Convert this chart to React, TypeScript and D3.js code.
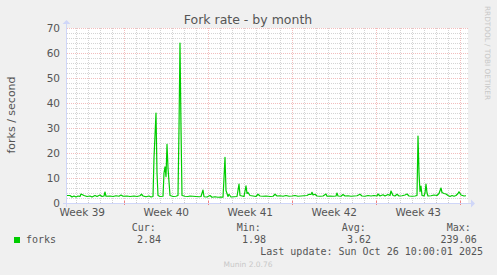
import React from "react";
import * as d3 from "d3";

// ---- data ----
const startTime = new Date(Date.UTC(2025, 8, 23, 5, 24));
const endTime = new Date(Date.UTC(2025, 9, 26, 13, 24));
// hours since startTime of each sample (2h resolution)
const sampleHours = [
  0, 6, 10, 14, 18, 22, 26, 28, 34, 40, 46, 50, 56, 60, 66, 70, 74, 76, 78, 86, 92, 98, 104, 108, 112,
  120, 126, 134, 140, 146, 149, 152, 158, 164, 168, 172, 174, 178, 180, 182, 186, 192, 194, 196, 198, 200, 202,
  206, 212, 218, 222, 224, 226, 228, 230, 236, 242, 246, 252, 258, 264, 268, 272, 274, 280, 286, 290, 296,
  302, 308, 312, 314, 316, 318, 322, 324, 328, 334, 340, 344, 346, 350, 354, 358, 360, 362, 366, 372, 378,
  382, 386, 392, 398, 406, 412, 416, 420, 426, 432, 438, 444, 450, 456, 462, 468, 474, 480, 484, 488, 490,
  492, 496, 500, 506, 512, 518, 520, 526, 532, 538, 540, 542, 548, 552, 556, 562, 568, 574, 580, 586, 590,
  596, 602, 608, 614, 620, 622, 626, 632, 636, 642, 646, 648, 652, 656, 660, 664, 670, 676, 680, 684, 690,
  696, 700, 702, 704, 706, 708, 710, 714, 716, 718, 720, 722, 728, 734, 740, 744, 748, 750, 754, 758, 762,
  766, 770, 774, 778, 782, 784, 788, 794, 798,
];
const forksValues = [
  3.0, 3.0, 2.4, 2.8, 2.4, 2.8, 2.6, 3.6, 3.0, 2.6, 2.8, 2.4, 3.0, 2.6, 3.2, 2.6, 2.8, 4.4, 2.7, 2.8, 2.6, 2.9, 2.7, 3.2, 2.7,
  2.8, 2.6, 2.8, 2.6, 2.9, 3.5, 2.8, 2.5, 2.8, 2.4, 2.6, 18, 36, 12, 3.0, 2.6, 2.7, 12, 14.5, 10.5, 23.5, 14,
  3.0, 2.6, 2.7, 3.0, 30, 64, 30, 3.0, 2.7, 2.6, 2.8, 2.7, 2.6, 2.5, 2.6, 5.2, 2.5, 2.4, 3.0, 2.3, 2.5,
  2.3, 2.4, 2.3, 10, 18.3, 5.0, 2.6, 3.5, 2.4, 2.5, 2.6, 7.6, 3.0, 2.8, 2.6, 6.9, 3.8, 4.2, 3.0, 2.8, 2.6,
  3.5, 2.8, 2.7, 2.8, 2.6, 2.7, 3.5, 2.8, 2.9, 2.7, 3.0, 2.7, 2.8, 3.0, 2.7, 2.8, 2.9, 3.0, 3.5, 3.4, 4.3,
  3.2, 3.5, 2.8, 2.7, 2.8, 3.6, 2.7, 2.8, 2.7, 2.8, 4.0, 2.8, 2.7, 3.4, 2.8, 2.9, 2.7, 2.8, 2.9, 3.5, 2.8,
  2.7, 3.0, 2.8, 3.0, 2.8, 3.6, 2.8, 3.3, 2.8, 3.4, 3.0, 4.8, 3.0, 2.8, 3.5, 2.8, 2.9, 3.2, 3.6, 2.8, 2.7,
  2.8, 3.0, 26.8, 12, 4.5, 6.8, 3.0, 2.8, 4.0, 7.6, 4.0, 2.8, 2.9, 3.2, 3.0, 3.8, 6.0, 4.2, 3.8, 3.6, 3.0,
  2.6, 3.0, 2.7, 3.0, 3.8, 4.5, 3.2, 2.8, 2.9,
];
const yTicks = [0, 10, 20, 30, 40, 50, 60, 70];
const weekLabels = ["Week 39", "Week 40", "Week 41", "Week 42", "Week 43"];
const legendHeaders = ["Cur:", "Min:", "Avg:", "Max:"];
const legendValues = ["2.84", "1.98", "3.62", "239.06"];
const seriesName = "forks";
const lastUpdate = "Last update: Sun Oct 26 10:00:01 2025";

const W = 497;
const H = 275;
const X0 = 67;
const X1 = 467;
const Y0 = 203;
const Y1 = 28;
const sans = "'DejaVu Sans', sans-serif";
const mono = "'DejaVu Sans Mono', monospace";
const axisCol = "#CFD6F8";
const majorCol = "#F2BDBD";
const minorCol = "#D4D4D4";

export default function App() {
  const x = d3.scaleUtc().domain([startTime, endTime]).range([X0, X1]);
  const y = d3.scaleLinear().domain([0, 70]).range([Y0, Y1]);
  const pts = sampleHours.map((h, i) => ({
    t: new Date(startTime.getTime() + h * 3600 * 1000),
    v: forksValues[i],
  }));
  const line = d3
    .line<{ t: Date; v: number }>()
    .x((d) => x(d.t))
    .y((d) => y(d.v));
  const days = d3.utcDay.range(startTime, endTime);
  const weeks = d3.utcSunday.range(startTime, endTime);
  const minorY = d3.range(2, 70, 2).filter((v) => v % 10 !== 0);
  const px = (v: number) => Math.round(v) + 0.5;
  const legendX = [131.7, 236.7, 341.7, 446.7];
  const valueRight = [161, 266, 371, 476.7];

  return (
    <svg
      width={W}
      height={H}
      style={{ position: "absolute", left: 0, top: 0 }}
      xmlns="http://www.w3.org/2000/svg"
    >
      <rect x={0} y={0} width={W} height={H} fill="#F0F0F0" />
      <rect x={X0} y={Y1} width={X1 - X0 + 1} height={Y0 - Y1} fill="#FFFFFF" />
      {/* minor grid */}
      {days.map((d, i) => (
        <line key={"dv" + i} x1={px(x(d))} x2={px(x(d))} y1={Y1} y2={Y0} stroke={minorCol} strokeDasharray="1,1" />
      ))}
      {minorY.map((v) => (
        <line key={"mh" + v} x1={X0} x2={X1 + 1} y1={px(y(v))} y2={px(y(v))} stroke={minorCol} strokeDasharray="1,1" />
      ))}
      {/* major grid */}
      {weeks.map((d, i) => (
        <line key={"wv" + i} x1={px(x(d))} x2={px(x(d))} y1={Y1} y2={Y0} stroke={majorCol} strokeDasharray="1,1" />
      ))}
      {yTicks.filter((v) => v > 0).map((v) => (
        <line key={"Mh" + v} x1={X0} x2={X1 + 1} y1={px(y(v))} y2={px(y(v))} stroke={majorCol} strokeDasharray="1,1" />
      ))}
      {/* axis ticks */}
      {days.map((d, i) => (
        <line key={"dt" + i} x1={px(x(d))} x2={px(x(d))} y1={Y0 - 1} y2={Y0 + 1} stroke="#C8C8C8" />
      ))}
      {weeks.map((d, i) => (
        <line key={"wt" + i} x1={px(x(d))} x2={px(x(d))} y1={Y0 - 2} y2={Y0 + 2} stroke="#F08080" />
      ))}
      {/* axes */}
      <line x1={63} x2={471} y1={px(Y0)} y2={px(Y0)} stroke={axisCol} />
      <path d={`M${471},${Y0 - 3.5} L${475},${Y0 + 0.5} L${471},${Y0 + 4.5} Z`} fill={axisCol} />
      <line x1={px(X0 - 1)} x2={px(X0 - 1)} y1={207} y2={24} stroke={axisCol} />
      <path d={`M${X0 - 4.5},${24} L${X0 - 0.5},${20} L${X0 + 3.5},${24} Z`} fill={axisCol} />
      {/* data */}
      <path d={line(pts) || ""} fill="none" stroke="#00CC00" strokeWidth={1.2} strokeLinejoin="round" />
      {/* y labels */}
      {yTicks.map((v) => (
        <text key={"yl" + v} x={60} y={y(v) + 3.8} textAnchor="end" fontFamily={sans} fontSize={10.5} fill="#555">
          {v}
        </text>
      ))}
      {weekLabels.map((lbl, i) => {
        const c = new Date(weeks[i].getTime() - 3.5 * 86400000);
        return (
          <text key={lbl} x={x(c)} y={215.5} textAnchor="middle" fontFamily={sans} fontSize={10.5} fill="#555">
            {lbl}
          </text>
        );
      })}
      <text x={248} y={24} textAnchor="middle" fontFamily={sans} fontSize={12.5} fill="#555">
        Fork rate - by month
      </text>
      <text
        transform={`translate(15,115) rotate(-90)`}
        textAnchor="middle"
        fontFamily={sans}
        fontSize={11}
        fill="#555"
      >
        forks / second
      </text>
      <text
        transform={`translate(485,53) rotate(90)`}
        textAnchor="middle"
        fontFamily={sans}
        fontSize={7.3}
        fill="#C8C8C8"
      >
        RRDTOOL / TOBI OETIKER
      </text>
      {/* legend */}
      <rect x={14} y={237} width={6} height={6} fill="#00CC00" />
      <text x={26} y={243} fontFamily={mono} fontSize={10} fill="#555">
        {seriesName}
      </text>
      {legendHeaders.map((h, i) => (
        <text key={h} x={legendX[i]} y={230.5} fontFamily={mono} fontSize={10} fill="#555">
          {h}
        </text>
      ))}
      {legendValues.map((v, i) => (
        <text key={"lv" + i} x={valueRight[i]} y={243} textAnchor="end" fontFamily={mono} fontSize={10} fill="#555">
          {v}
        </text>
      ))}
      <text x={483} y={255} textAnchor="end" fontFamily={mono} fontSize={10} fill="#555">
        {lastUpdate}
      </text>
      <text x={248} y={267} textAnchor="middle" fontFamily={sans} fontSize={7.5} fill="#C8C8C8">
        Munin 2.0.76
      </text>
    </svg>
  );
}
